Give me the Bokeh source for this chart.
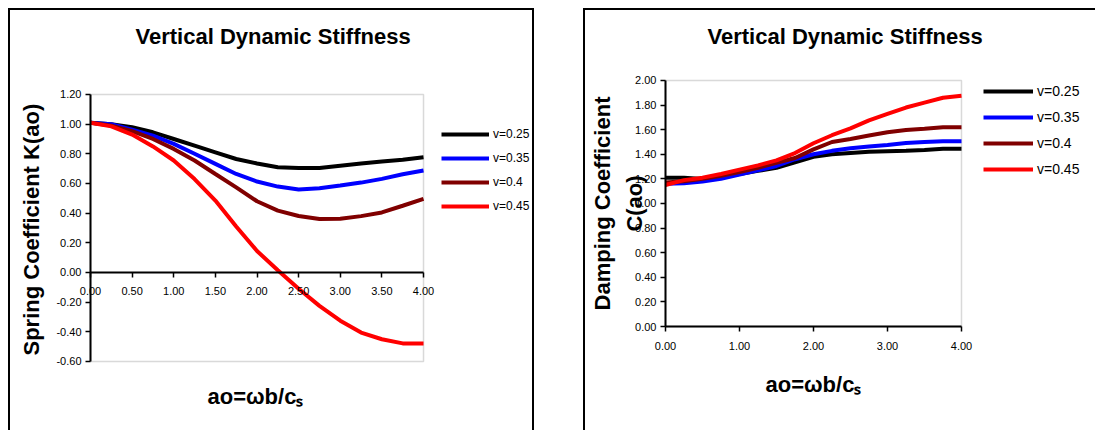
from bokeh.plotting import figure
from bokeh.models import (Range1d, FixedTicker, NumeralTickFormatter, Legend,
                          LegendItem, Title, BoxAnnotation)
from bokeh.embed import file_html
from bokeh.resources import INLINE

# ---------------- data ----------------
ao = [0.0, 0.25, 0.5, 0.75, 1.0, 1.25, 1.5, 1.75, 2.0, 2.25, 2.5, 2.75,
      3.0, 3.25, 3.5, 3.75, 4.0]

series_labels = ["v=0.25", "v=0.35", "v=0.4", "v=0.45"]
series_colors = ["#000000", "#0000FF", "#800000", "#FF0000"]

# Spring coefficient K(ao)
k_v025 = [1.01, 1.00, 0.98, 0.945, 0.90, 0.855, 0.81, 0.765, 0.735, 0.71,
          0.705, 0.705, 0.72, 0.735, 0.748, 0.76, 0.777]
k_v035 = [1.01, 1.00, 0.962, 0.923, 0.867, 0.80, 0.732, 0.664, 0.613, 0.579,
          0.56, 0.568, 0.586, 0.606, 0.631, 0.662, 0.687]
k_v040 = [1.01, 0.99, 0.953, 0.90, 0.833, 0.755, 0.664, 0.574, 0.48, 0.417,
          0.381, 0.36, 0.363, 0.38, 0.405, 0.45, 0.496]
k_v045 = [1.01, 0.985, 0.93, 0.85, 0.755, 0.63, 0.485, 0.31, 0.145, 0.015,
          -0.11, -0.225, -0.325, -0.405, -0.45, -0.478, -0.478]

# Damping coefficient C(ao)
c_v025 = [1.21, 1.21, 1.20, 1.22, 1.24, 1.265, 1.29, 1.335, 1.38, 1.40,
          1.41, 1.42, 1.425, 1.428, 1.435, 1.445, 1.445]
c_v035 = [1.16, 1.165, 1.178, 1.20, 1.235, 1.27, 1.305, 1.36, 1.40, 1.428,
          1.449, 1.463, 1.476, 1.492, 1.50, 1.505, 1.506]
c_v040 = [1.17, 1.18, 1.20, 1.225, 1.255, 1.29, 1.33, 1.37, 1.44, 1.50,
          1.525, 1.552, 1.579, 1.597, 1.608, 1.62, 1.62]
c_v045 = [1.15, 1.19, 1.21, 1.24, 1.275, 1.31, 1.35, 1.41, 1.49, 1.555,
          1.61, 1.675, 1.728, 1.78, 1.82, 1.86, 1.875]

k_xticks = [0.0, 0.5, 1.0, 1.5, 2.0, 2.5, 3.0, 3.5, 4.0]
k_yticks = [-0.6, -0.4, -0.2, 0.0, 0.2, 0.4, 0.6, 0.8, 1.0, 1.2]
c_xticks = [0.0, 1.0, 2.0, 3.0, 4.0]
c_yticks = [0.0, 0.2, 0.4, 0.6, 0.8, 1.0, 1.2, 1.4, 1.6, 1.8, 2.0]

title_text = "Vertical Dynamic Stiffness"
xlabel_text = "ao=\u03c9b/c\u209b"
k_ylabel = "Spring Coefficient K(ao)"
c_ylabel = "Damping Coefficient\nC(ao)"

FONT = "Liberation Sans"


def style_axes(p, xticks, yticks):
    for ax, tk in ((p.xaxis[0], xticks), (p.yaxis[0], yticks)):
        ax.ticker = FixedTicker(ticks=tk)
        ax.bounds = (tk[0], tk[-1])
        ax.fixed_location = 0
        ax.formatter = NumeralTickFormatter(format="0.00")
        ax.major_label_text_font = FONT
        ax.major_label_text_font_size = "11px"
        ax.major_label_text_color = "#000000"
        ax.major_tick_in = 0
        ax.major_tick_out = 5
        ax.major_tick_line_width = 1.5
        ax.minor_tick_line_color = None
        ax.axis_line_width = 2
        ax.axis_line_color = "#000000"
    p.xaxis.major_label_standoff = 10
    p.yaxis.major_label_standoff = 4
    p.yaxis.axis_label_text_font = FONT
    p.yaxis.axis_label_text_font_size = "22px"
    p.yaxis.axis_label_text_font_style = "bold"
    p.yaxis.axis_label_text_color = "#000000"
    p.grid.visible = False
    p.outline_line_color = None
    p.background_fill_color = "white"
    p.border_fill_color = "white"
    # grey plot-area box around the data region
    p.add_layout(BoxAnnotation(left=xticks[0], right=xticks[-1],
                               bottom=yticks[0], top=yticks[-1],
                               fill_alpha=0, line_color="#808080",
                               line_width=1.5, level="underlay"))


def add_title(p, offset):
    t = Title(text=title_text, align="left", offset=offset, standoff=0,
              text_font=FONT, text_font_size="22px", text_font_style="bold",
              text_color="#000000")
    p.add_layout(t, "above")


def add_xlabel(p, offset, standoff):
    t = Title(text=xlabel_text, align="left", offset=offset, text_font=FONT,
              text_font_size="22px", text_font_style="bold",
              text_color="#000000", standoff=standoff)
    p.add_layout(t, "below")


def add_lines(p, ys):
    rs = []
    for y, c in zip(ys, series_colors):
        rs.append(p.line(ao, y, line_color=c, line_width=4))
    return rs


def add_legend(p, rs, **kw):
    items = [LegendItem(label=l, renderers=[r]) for l, r in zip(series_labels, rs)]
    leg = Legend(items=items, margin=0, padding=0, border_line_color=None,
                 background_fill_alpha=0, label_text_font=FONT,
                 label_text_color="#000000", label_standoff=4,
                 glyph_height=20, label_height=20, **kw)
    p.add_layout(leg)


# ---------------- left chart ----------------
p1 = figure(width=526, height=422, x_range=Range1d(-0.5045, 5.309),
            y_range=Range1d(-0.654, 1.51),
            output_backend="svg", toolbar_location=None,
            min_border_left=38, min_border_right=4, min_border_top=38,
            min_border_bottom=63)
p1.styles = {"position": "absolute", "left": "8px", "top": "8px",
             "border-left": "2px solid black", "border-top": "2px solid black",
             "border-right": "2px solid black"}
style_axes(p1, k_xticks, k_yticks)
add_title(p1, 87)
add_xlabel(p1, 159, 24)
p1.add_layout(Title(text=k_ylabel, align="left", offset=14, standoff=10,
                    text_font=FONT, text_font_size="22px",
                    text_font_style="bold", text_color="#000000"), "left")
r1 = add_lines(p1, [k_v025, k_v035, k_v040, k_v045])
add_legend(p1, r1, location=(393, 153), glyph_width=48, spacing=4,
           label_text_font_size="12px")

# ---------------- right chart ----------------
p2 = figure(width=512, height=422, x_range=Range1d(-1.054, 5.676),
            y_range=Range1d(-0.2764, 2.26),
            output_backend="svg", toolbar_location=None,
            min_border_left=2, min_border_right=12, min_border_top=38,
            min_border_bottom=72)
p2.styles = {"position": "absolute", "left": "583px", "top": "8px",
             "border-left": "2px solid black", "border-top": "2px solid black"}
style_axes(p2, c_xticks, c_yticks)
p2.yaxis.axis_label = c_ylabel
p2.yaxis.axis_label_standoff = -15
p2.yaxis.axis_label_text_line_height = 1.29
add_title(p2, 120)
add_xlabel(p2, 178, 18)
r2 = add_lines(p2, [c_v025, c_v035, c_v040, c_v045])
add_legend(p2, r2, location=(396, 181), glyph_width=50, spacing=6,
           label_text_font_size="14px")

open("out.html", "w").write(file_html([p1, p2], INLINE))
